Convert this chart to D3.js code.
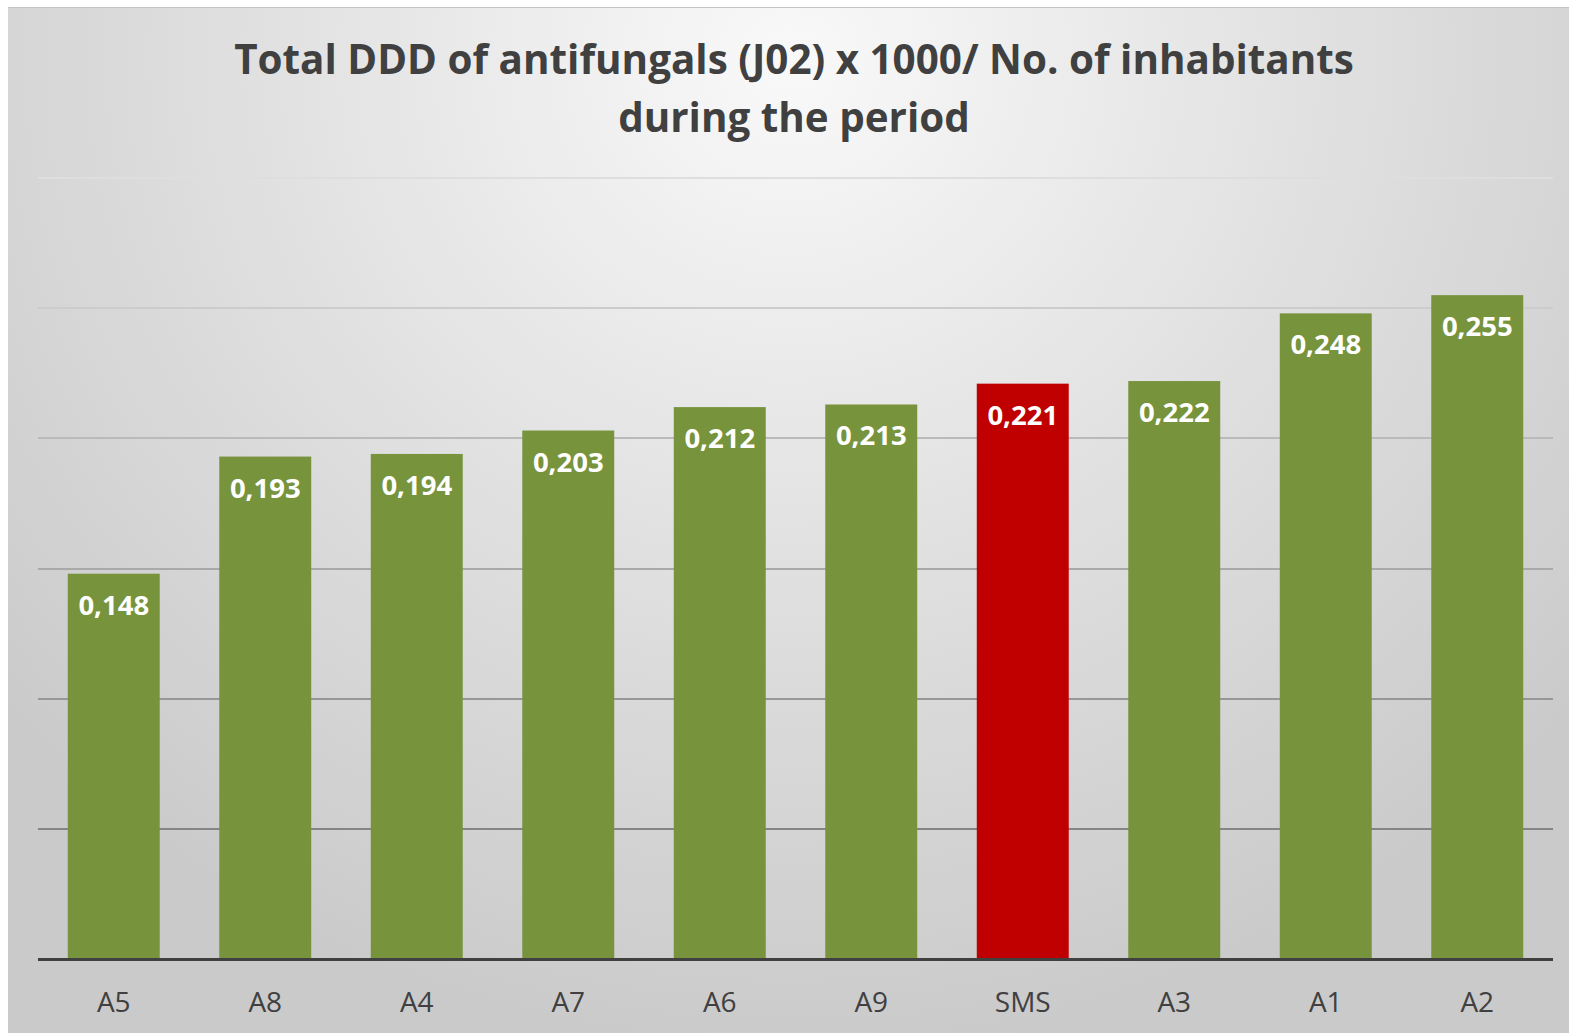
<!DOCTYPE html>
<html>
<head>
<meta charset="utf-8">
<script src="https://cdn.jsdelivr.net/npm/d3@7"></script>
<style>
  html, body { margin: 0; padding: 0; background: #fff; }
  svg { display: block; font-family: "Open Sans", sans-serif; }
</style>
</head>
<body>
<div id="chart"></div>
<script>
const categories = ['A5', 'A8', 'A4', 'A7', 'A6', 'A9', 'SMS', 'A3', 'A1', 'A2'];
const values = [0.148, 0.193, 0.194, 0.203, 0.212, 0.213, 0.221, 0.222, 0.248, 0.255];
const highlight = 'SMS';
const gridTicks = [0, 0.05, 0.1, 0.15, 0.2, 0.25, 0.3];
const titleLines = ['Total DDD of antifungals (J02) x 1000/ No. of inhabitants', 'during the period'];

const config = {
  width: 1569, height: 1033,
  frame: {left: 8, top: 7},
  margin: {top: 178, right: 16, bottom: 74, left: 38}
};

const svg = d3.select('#chart').append('svg')
    .attr('width', config.width)
    .attr('height', config.height);

// background gradient (Excel style)
const defs = svg.append('defs');
const grad = defs.append('radialGradient')
    .attr('id', 'bg')
    .attr('gradientUnits', 'userSpaceOnUse')
    .attr('cx', 790).attr('cy', 60)
    .attr('r', 1050)
    .attr('gradientTransform', 'translate(790,60) scale(1,0.95) translate(-790,-60)');
grad.append('stop').attr('offset', '0%').attr('stop-color', '#f9f9f9');
grad.append('stop').attr('offset', '60%').attr('stop-color', '#dcdcdc');
grad.append('stop').attr('offset', '100%').attr('stop-color', '#cacaca');

svg.append('rect')
    .attr('x', config.frame.left)
    .attr('y', config.frame.top)
    .attr('width', config.width - config.frame.left)
    .attr('height', config.height - config.frame.top)
    .attr('fill', 'url(#bg)');

svg.append('line')
    .attr('x1', config.frame.left).attr('x2', config.width)
    .attr('y1', config.frame.top + 0.5).attr('y2', config.frame.top + 0.5)
    .attr('stroke', '#c4c4c4');

const innerW = config.width - config.margin.left - config.margin.right;
const innerH = config.height - config.margin.top - config.margin.bottom;

const chart = svg.append('g')
    .attr('transform', `translate(${config.margin.left},${config.margin.top})`);

const x = d3.scaleBand()
    .domain(categories)
    .range([0, innerW])
    .paddingInner(0.393)
    .paddingOuter(0.1965);

const y = d3.scaleLinear()
    .domain([0, 0.3])
    .range([innerH, 0]);

// gridline colour fades from dark (bottom) to light (top)
const gridColor = d3.scaleLinear()
    .domain([0.05, 0.3])
    .range(['#858585', '#dedede']);

// gridlines
chart.selectAll('.grid')
    .data(gridTicks.slice(1))
  .join('line')
    .attr('class', 'grid')
    .attr('x1', 0).attr('x2', innerW)
    .attr('y1', d => Math.round(y(d)))
    .attr('y2', d => Math.round(y(d)))
    .attr('stroke', d => gridColor(d))
    .attr('stroke-width', 2);

// bars
chart.selectAll('.bar')
    .data(values)
  .join('rect')
    .attr('class', 'bar')
    .attr('x', (d, i) => x(categories[i]))
    .attr('y', d => y(d))
    .attr('width', x.bandwidth())
    .attr('height', d => innerH - y(d))
    .attr('fill', (d, i) => categories[i] === highlight ? '#c00000' : '#77933c');

// value labels
chart.selectAll('.value-label')
    .data(values)
  .join('text')
    .attr('class', 'value-label')
    .attr('text-anchor', 'middle')
    .attr('x', (d, i) => x(categories[i]) + x.bandwidth() / 2)
    .attr('y', d => y(d) + 41)
    .attr('fill', '#fff')
    .attr('font-size', 27.5)
    .attr('font-weight', 700)
    .text(d => d3.format('.3f')(d).replace('.', ','));

// x axis
const xAxis = chart.append('g')
    .attr('transform', `translate(0,${innerH})`)
    .call(d3.axisBottom(x).tickSize(0).tickPadding(0));
xAxis.select('.domain').remove();
xAxis.selectAll('text')
    .attr('dy', null)
    .attr('y', 53)
    .attr('fill', '#404040')
    .attr('font-size', 28)
    .attr('font-family', '"Open Sans", sans-serif');

chart.append('line')
    .attr('x1', 0).attr('x2', innerW)
    .attr('y1', innerH + 0.5).attr('y2', innerH + 0.5)
    .attr('stroke', '#404040')
    .attr('stroke-width', 3);

// title
svg.append('g').selectAll('text')
    .data(titleLines)
  .join('text')
    .attr('x', 794)
    .attr('y', (d, i) => 74 + i * 58)
    .attr('text-anchor', 'middle')
    .attr('fill', '#404040')
    .attr('font-size', 40.4)
    .attr('font-weight', 700)
    .text(d => d);
</script>
</body>
</html>
